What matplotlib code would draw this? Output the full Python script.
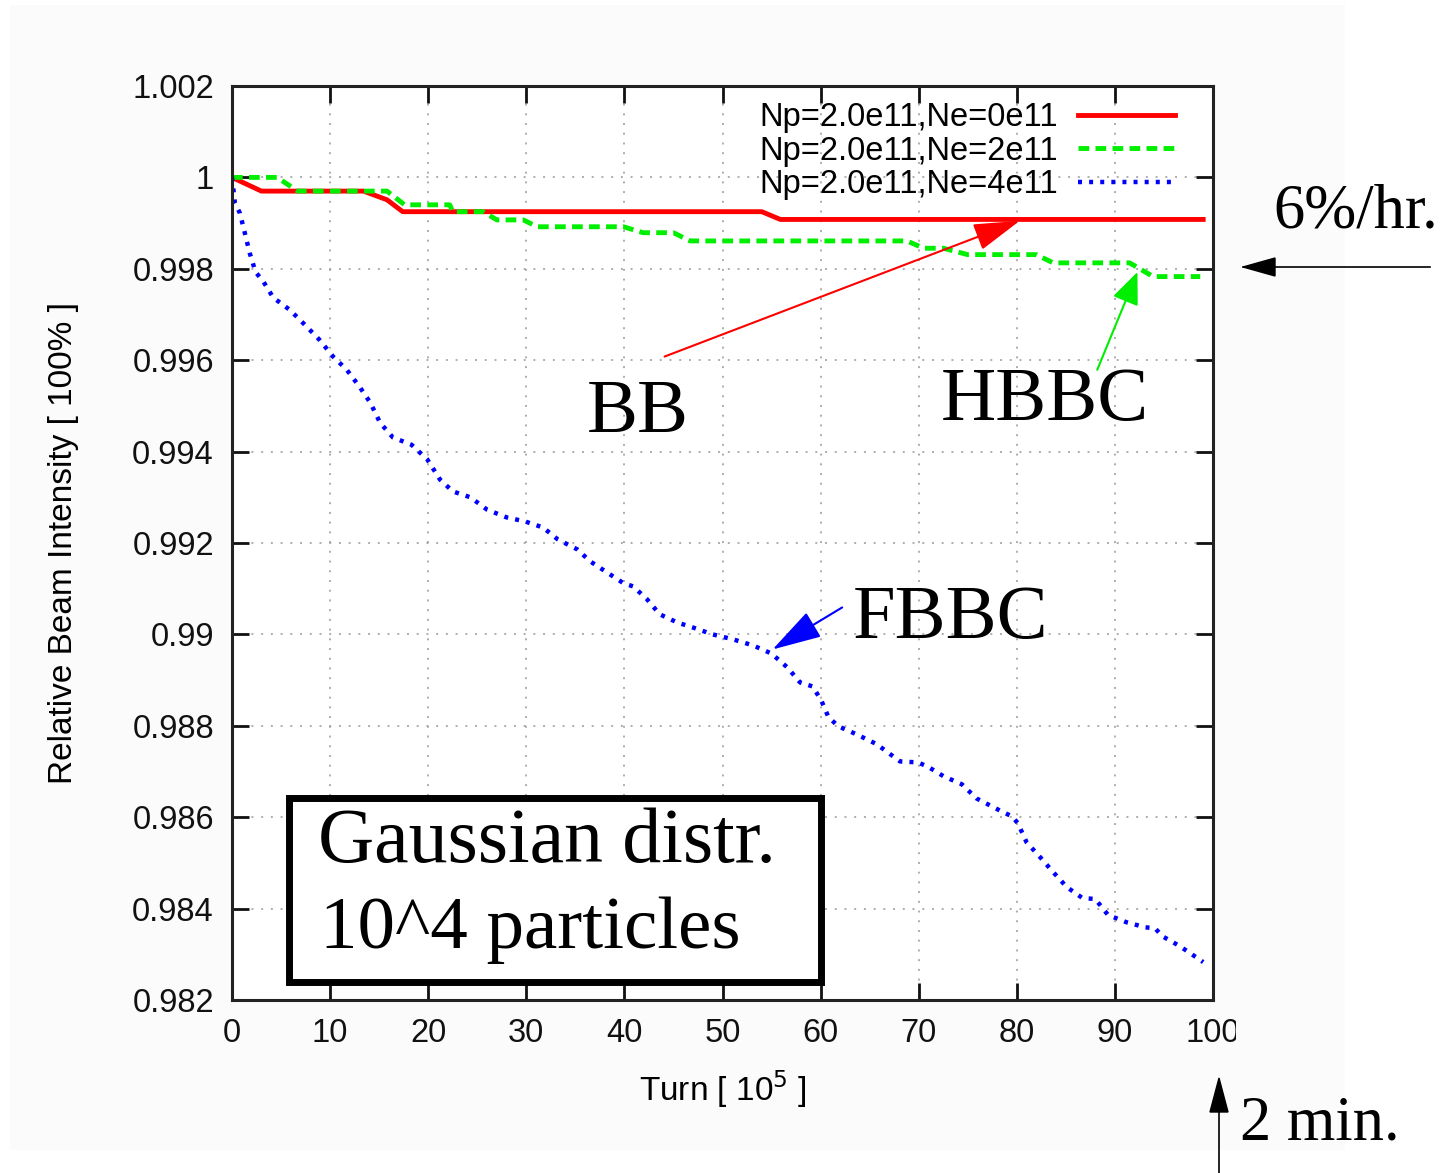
import matplotlib
matplotlib.use("Agg")
import matplotlib.pyplot as plt
from matplotlib.patches import Rectangle
from matplotlib.transforms import Bbox, TransformedBbox

# values (turn in 1e5, relative intensity)
red_x = [0, 3.0, 13.4, 15.8, 17.4, 54.0, 55.9, 99.0]
red_y = [1.0, 0.99970, 0.99970, 0.99951, 0.99925, 0.99925, 0.99908, 0.99908]

green_x = [0, 4.6, 6.7, 15.8, 17.6, 22.2, 22.5, 25.6, 27.0, 29.7, 31.1, 39.9, 41.9,
           45.0, 46.7, 68.8, 70.5, 72.5, 75.0, 82.0, 83.7, 91.5, 93.9, 98.7]
green_y = [1.0, 1.0, 0.99970, 0.99970, 0.99940, 0.99940, 0.99925, 0.99925, 0.99907,
           0.99907, 0.99892, 0.99892, 0.99879, 0.99879, 0.99861, 0.99861, 0.99845,
           0.99845, 0.99831, 0.99831, 0.99813, 0.99813, 0.99783, 0.99783]

blue_x = [0, 0.3, 0.8, 1.3, 1.8, 2.4, 3.2, 4.2, 5.9, 7.4, 8.9, 10.3, 11.7, 13.0, 14.1,
          15.1, 16.4, 18.3, 19.9, 21.2, 22.5, 24.3, 26.0, 28.0, 29.9, 31.7, 33.2, 35.2,
          36.5, 38.2, 39.9, 40.9, 42.3, 43.6, 45.4, 47.0, 49.0, 51.1, 53.1, 55.0, 56.6,
          57.9, 59.2, 60.1, 60.8, 61.8, 63.7, 65.7, 68.1, 69.9, 70.9, 72.5, 74.4, 75.9,
          78.6, 79.5, 80.1, 81.0, 82.4, 83.7, 85.1, 86.7, 88.0, 89.3, 91.2, 93.1, 94.1,
          94.8, 96.6, 97.5, 99.0]
blue_y = [1.0, 0.99944, 0.99922, 0.99879, 0.99835, 0.99793, 0.99772, 0.99737, 0.99710,
          0.99678, 0.99645, 0.99608, 0.99579, 0.99542, 0.99507, 0.99463, 0.99431,
          0.99415, 0.99383, 0.99339, 0.99313, 0.99300, 0.99273, 0.99256, 0.99247,
          0.99234, 0.99208, 0.99186, 0.99160, 0.99136, 0.99112, 0.99105, 0.99077,
          0.99044, 0.99026, 0.99015, 0.99000, 0.98989, 0.98976, 0.98958, 0.98928,
          0.98895, 0.98886, 0.98854, 0.98819, 0.98799, 0.98781, 0.98760, 0.98722,
          0.98720, 0.98711, 0.98690, 0.98672, 0.98641, 0.98611, 0.98602, 0.98587,
          0.98545, 0.98512, 0.98480, 0.98447, 0.98423, 0.98421, 0.98386, 0.98370,
          0.98359, 0.98357, 0.98340, 0.98318, 0.98305, 0.98283]

labels = ["Np=2.0e11,Ne=0e11", "Np=2.0e11,Ne=2e11", "Np=2.0e11,Ne=4e11"]
x_ticks = list(range(0, 101, 10))
x_tick_labels = [str(v) for v in x_ticks[:-1]] + [""]
y_ticks = [0.982, 0.984, 0.986, 0.988, 0.990, 0.992, 0.994, 0.996, 0.998, 1.0, 1.002]
y_tick_labels = ["0.982", "0.984", "0.986", "0.988", "0.99", "0.992", "0.994",
                 "0.996", "0.998", "1", "1.002"]

sans = ["Liberation Sans", "DejaVu Sans"]
serif = ["Liberation Serif", "DejaVu Serif"]

W, H = 1454, 1173
fig = plt.figure(figsize=(W / 100, H / 100), dpi=100, facecolor="white")
fig.patches.append(Rectangle((10 / W, 1 - 1150 / H), 1335 / W, 1145 / H,
                             transform=fig.transFigure, facecolor="#FAFBFA",
                             edgecolor="none", zorder=-10))
ax = fig.add_axes([232 / W, 1 - 1000 / H, 981 / W, 914 / H], zorder=2)
ax.set_facecolor("white")

ax.plot(red_x, red_y, color="#FF0000", linewidth=3.5, label=labels[0])
ax.plot(green_x, green_y, color="#00EE00", linewidth=3.5, linestyle=(0, (2.2, 1.3)),
        label=labels[1])
ax.plot(blue_x, blue_y, color="#0000FF", linewidth=3.2, linestyle=(0, (0.9, 1.6)),
        label=labels[2])

ax.set_xlim(0, 100)
ax.set_ylim(0.982, 1.002)
ax.set_xticks(x_ticks)
ax.set_xticklabels(x_tick_labels)
ax.set_yticks(y_ticks)
ax.set_yticklabels(y_tick_labels)
ax.tick_params(direction="in", length=12, width=2, top=True, right=True,
               labelsize=23.5, pad=13, colors="#111111")
for lbl in ax.get_xticklabels() + ax.get_yticklabels():
    lbl.set_family(sans)
ax.grid(True, color="#999999", linestyle=(0, (1, 4)), linewidth=1.4, alpha=0.8)
for s in ax.spines.values():
    s.set_linewidth(2.2)
    s.set_color("#222222")

# last x label is cut off at the edge of the original figure
last = fig.text(1213 / W, 1 - 1033 / H, "100", fontsize=23.5, family=sans,
                color="#111111", ha="center", va="center")
last.set_clip_box(TransformedBbox(Bbox.from_extents(0, 0, 1236 / W, 1), fig.transFigure))
last.set_clip_on(True)

ax.set_xlabel("Turn [ 10$^5$ ]", fontsize=24, family=sans, labelpad=14)
ax.set_ylabel("Relative Beam Intensity [ 100% ]", fontsize=24, family=sans, labelpad=38)

ax.legend(loc="upper right", bbox_to_anchor=(0.975, 0.9965), frameon=False,
          markerfirst=False, handlelength=3.0, handletextpad=0.6, borderaxespad=0,
          labelspacing=0.08, prop={"family": sans, "size": 23.5})

# annotations
ax.annotate("", xy=(80.3, 0.99905), xytext=(44.1, 0.99608),
            arrowprops=dict(arrowstyle="-|>,head_length=1.45,head_width=0.43",
                            mutation_scale=20, color="#FF0000", linewidth=1.5,
                            shrinkA=0, shrinkB=0))
ax.text(36.2, 0.99442, "BB", fontsize=55, family=serif, ha="left", va="baseline")

ax.annotate("", xy=(92.3, 0.99793), xytext=(88.2, 0.99579),
            arrowprops=dict(arrowstyle="-|>,head_length=1.0,head_width=0.42",
                            mutation_scale=20, color="#00EE00", linewidth=1.5,
                            shrinkA=0, shrinkB=0))
ax.text(72.2, 0.99470, "HBBC", fontsize=55, family=serif, ha="left", va="baseline")

ax.annotate("", xy=(55.1, 0.98967), xytext=(62.2, 0.99059),
            arrowprops=dict(arrowstyle="-|>,head_length=1.55,head_width=0.45",
                            mutation_scale=20, color="#0000FF", linewidth=1.5,
                            shrinkA=0, shrinkB=0))
ax.text(63.3, 0.98993, "FBBC", fontsize=55, family=serif, ha="left", va="baseline")

# boxed note
ax.add_patch(Rectangle((57 / 981, 18 / 914), 532 / 981, 184 / 914, transform=ax.transAxes,
                       facecolor="white", edgecolor="black", linewidth=5, zorder=4))
ax.text(86 / 981, (1000 - 862) / 914, "Gaussian distr.", transform=ax.transAxes,
        fontsize=56, family=serif, ha="left", va="baseline", zorder=5)
ax.text(88 / 981, (1000 - 948) / 914, "10^4 particles", transform=ax.transAxes,
        fontsize=54, family=serif, ha="left", va="baseline", zorder=5)

# outside notes
fig.text(1356 / W, 1 - 212 / H, "6%/hr.", fontsize=45, family=serif,
         ha="center", va="center")
fig.add_artist(plt.Line2D([1243 / W, 1430 / W], [1 - 267 / H] * 2,
                          transform=fig.transFigure, color="black", linewidth=1.2))
fig.patches.append(plt.Polygon([[1243 / W, 1 - 267 / H], [1275 / W, 1 - 258 / H],
                                [1275 / W, 1 - 276 / H]], closed=True,
                               transform=fig.transFigure, color="black"))
fig.text(1320 / W, 1 - 1125 / H, "2 min.", fontsize=45, family=serif,
         ha="center", va="center")
fig.add_artist(plt.Line2D([1219 / W] * 2, [0, 1 - 1080 / H],
                          transform=fig.transFigure, color="black", linewidth=1.2))
fig.patches.append(plt.Polygon([[1219 / W, 1 - 1078 / H], [1210 / W, 1 - 1112 / H],
                                [1228 / W, 1 - 1112 / H]], closed=True,
                               transform=fig.transFigure, color="black"))

fig.savefig("out.png", dpi=100, facecolor="white")
